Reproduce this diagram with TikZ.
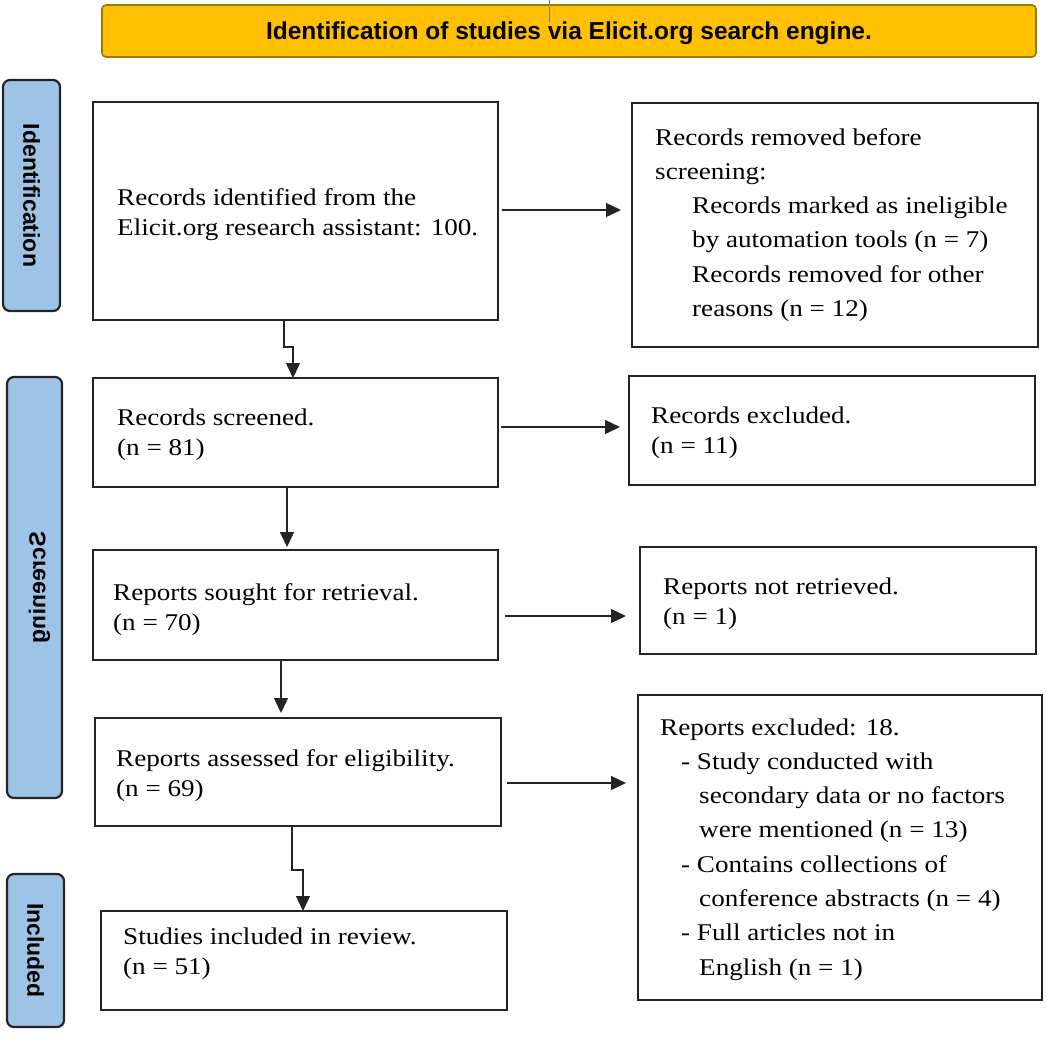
\documentclass[tikz,border=0pt]{standalone}
\usepackage{fontspec}
\setmainfont{Liberation Serif}[FakeStretch=1.13]
\newfontfamily\headfont{Liberation Sans}
\usetikzlibrary{arrows.meta,calc}

\definecolor{bannergold}{HTML}{FFC000}
\definecolor{bannerrim}{HTML}{9C7A00}
\definecolor{stageblue}{HTML}{9DC3E6}
\definecolor{inkline}{HTML}{242424}

% a block of left-aligned lines whose baseline is the first line
\newcommand{\boxlines}[1]{\begin{tabular}[t]{@{}l@{}}#1\end{tabular}}

\begin{document}
\begin{tikzpicture}[x=1pt,y=-1pt,
  flowbox/.style={draw=inkline, line width=2.3pt, inner sep=0pt, outer sep=0pt},
  stagebox/.style={draw=inkline, fill=stageblue, line width=2.2pt, rounded corners=7pt, inner sep=0pt, outer sep=0pt},
  stagetext/.style={rotate=-90, inner sep=0pt, font=\headfont\bfseries\fontsize{23}{26}\selectfont},
  boxtext/.style={anchor=base west, inner sep=0pt, font=\fontsize{24}{30}\selectfont},
  widetext/.style={anchor=base west, inner sep=0pt, font=\fontsize{24}{34.3}\selectfont},
  arr/.style={draw=inkline, line width=1.4pt, -{Triangle[length=15pt,width=14pt]}}
]
\useasboundingbox (0,0) rectangle (1046,1037);

% heading banner
\node[draw=bannerrim, fill=bannergold, line width=1.6pt, rounded corners=4pt,
      minimum width=934pt, minimum height=52pt, inner sep=0pt] (banner) at (569,31) {};
\node[inner sep=0pt, font=\headfont\bfseries\fontsize{24.5}{28}\selectfont] (bannert)
      at ($(banner.center)+(0,2)$) {Identification of studies via Elicit.org search engine.};
\coordinate (tickTop) at (549,0);
\coordinate (tickEnd) at (549,22);
\draw[gray, line width=0.8pt] (tickTop) -- (tickEnd);

% stage labels
\node[stagebox, minimum width=57pt, minimum height=231pt] (stageA) at (31.5,195.5) {};
\node[stagetext] (stageAt) at (stageA.center) {Identification};
\node[stagebox, minimum width=55pt, minimum height=421pt] (stageB) at (34.5,587.5) {};
\node[stagetext] (stageBt) at ($(stageB.center)+(5,0)$) {\scalebox{1}[-1]{Screening}};
\node[stagebox, minimum width=57pt, minimum height=153pt] (stageC) at (35.5,950.5) {};
\node[stagetext] (stageCt) at (stageC.center) {Included};

% main column
\node[flowbox, minimum width=405pt, minimum height=218pt] (b1) at (295.5,211) {};
\node[flowbox, minimum width=405pt, minimum height=109pt] (b2) at (295.5,432.5) {};
\node[flowbox, minimum width=405pt, minimum height=110pt] (b3) at (295.5,605) {};
\node[flowbox, minimum width=406pt, minimum height=108pt] (b4) at (298,772) {};
\node[flowbox, minimum width=406pt, minimum height=99pt] (b5) at (304,960.5) {};

% side column
\node[flowbox, minimum width=406pt, minimum height=244pt] (r1) at (835,225) {};
\node[flowbox, minimum width=406pt, minimum height=109pt] (r2) at (832,430.5) {};
\node[flowbox, minimum width=396pt, minimum height=107pt] (r3) at (838,600.5) {};
\node[flowbox, minimum width=404pt, minimum height=305pt] (r4) at (840,847.5) {};

% box texts
\node[boxtext] (b1t) at ($(b1.north west)+(24,103)$)
  {\boxlines{Records identified from the\\ Elicit.org research assistant: 100.}};
\node[boxtext] (b2t) at ($(b2.north west)+(24,47)$)
  {\boxlines{Records screened.\\ (n = 81)}};
\node[boxtext] (b3t) at ($(b3.north west)+(20,50)$)
  {\boxlines{Reports sought for retrieval.\\ (n = 70)}};
\node[boxtext] (b4t) at ($(b4.north west)+(21,48)$)
  {\boxlines{Reports assessed for eligibility.\\ (n = 69)}};
\node[boxtext] (b5t) at ($(b5.north west)+(22,33)$)
  {\boxlines{Studies included in review.\\ (n = 51)}};

\node[widetext] (r1t) at ($(r1.north west)+(23,42)$)
  {\boxlines{Records removed before\\ screening:\\
   \hspace*{37pt}Records marked as ineligible\\
   \hspace*{37pt}by automation tools (n = 7)\\
   \hspace*{37pt}Records removed for other\\
   \hspace*{37pt}reasons (n = 12)}};
\node[boxtext] (r2t) at ($(r2.north west)+(22,47)$)
  {\boxlines{Records excluded.\\ (n = 11)}};
\node[boxtext] (r3t) at ($(r3.north west)+(23,47)$)
  {\boxlines{Reports not retrieved.\\ (n = 1)}};
\node[widetext] (r4t) at ($(r4.north west)+(22,40)$)
  {\boxlines{Reports excluded: 18.\\
   \hspace*{21pt}- Study conducted with\\
   \hspace*{39pt}secondary data or no factors\\
   \hspace*{39pt}were mentioned (n = 13)\\
   \hspace*{21pt}- Contains collections of\\
   \hspace*{39pt}conference abstracts (n = 4)\\
   \hspace*{21pt}- Full articles not in\\
   \hspace*{39pt}English (n = 1)}};

% horizontal connectors
\draw[arr] ($(b1.east)+(4,-1)$) -- ($(b1.east -| r1.west)+(-11,-1)$);
\draw[arr] ($(b2.east)+(3,-5.5)$) -- ($(b2.east -| r2.west)+(-9,-5.5)$);
\draw[arr] ($(b3.east)+(7,11)$) -- ($(b3.east -| r3.west)+(-14,11)$);
\draw[arr] ($(b4.east)+(6,11)$) -- ($(b4.east -| r4.west)+(-12,11)$);

% vertical connectors
\draw[arr] ($(b1.south)+(-11.5,0)$) -- ++(0,27) -| ($(b2.north)+(-2.5,0)$);
\draw[arr] ($(b2.south)+(-8.5,0)$) -- ($(b3.north)+(-8.5,-3)$);
\draw[arr] ($(b3.south)+(-14.5,0)$) -- ($(b3.south |- b4.north)+(-14.5,-5)$);
\draw[arr] ($(b4.south)+(-6,0)$) -- ++(0,44) -| ($(b5.north)+(-1,0)$);
\end{tikzpicture}
\end{document}
